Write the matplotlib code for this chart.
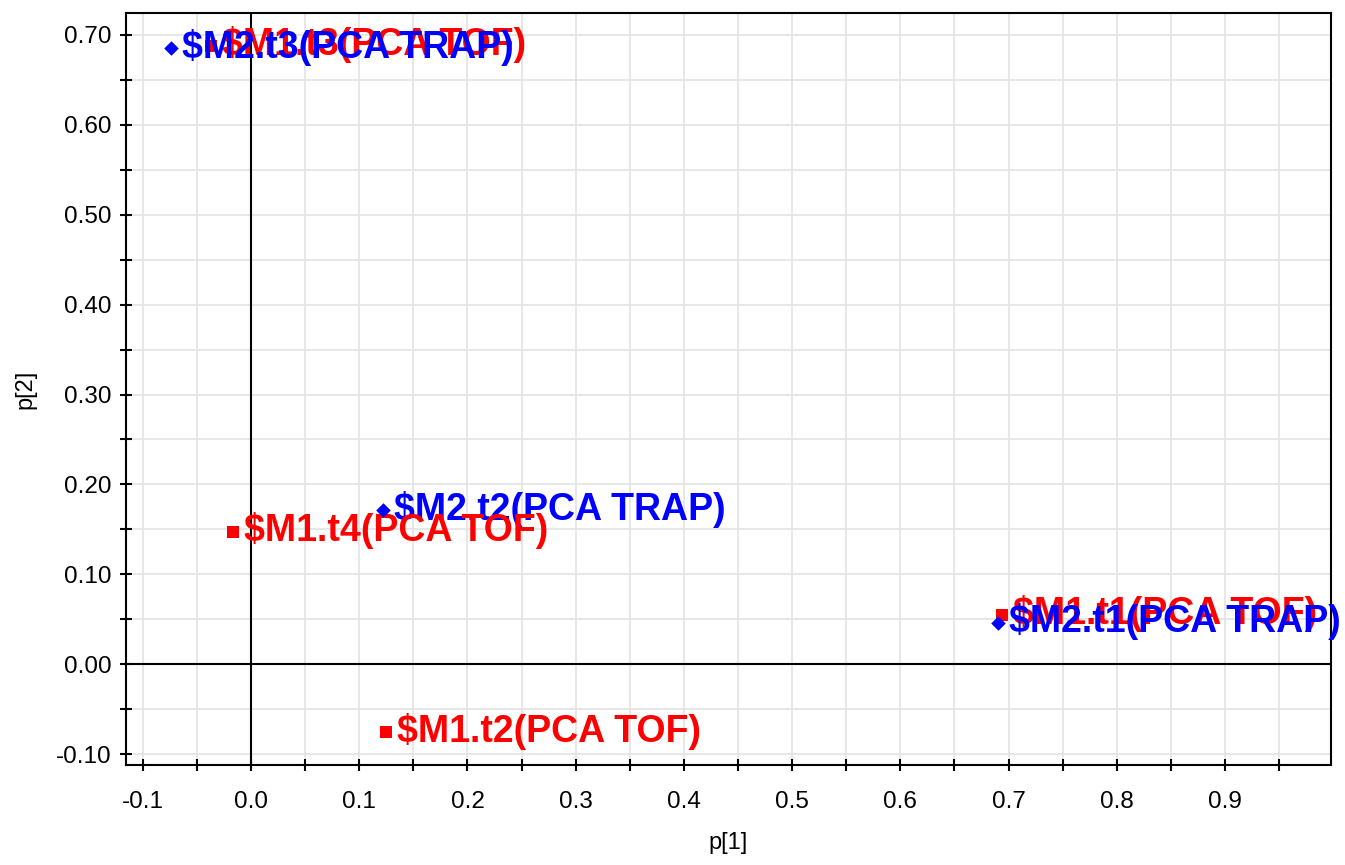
import matplotlib.pyplot as plt
from matplotlib.ticker import MultipleLocator, FormatStrFormatter

# scores (p[1], p[2])
m1_labels = ['$M1.t3(PCA TOF)', '$M1.t4(PCA TOF)', '$M1.t1(PCA TOF)', '$M1.t2(PCA TOF)']
m1_x = [-0.037, -0.017, 0.694, 0.125]
m1_y = [0.688, 0.147, 0.055, -0.076]

m2_labels = ['$M2.t3(PCA TRAP)', '$M2.t2(PCA TRAP)', '$M2.t1(PCA TRAP)']
m2_x = [-0.074, 0.122, 0.690]
m2_y = [0.685, 0.171, 0.046]

plt.rcParams['font.family'] = ['Liberation Sans', 'DejaVu Sans']

fig = plt.figure(figsize=(13.45, 8.65), dpi=100)
ax = fig.add_axes([0.0937, 0.1156, 0.8959, 0.8694])

# zero lines
ax.axhline(0, color='black', lw=1.5, zorder=1)
ax.axvline(0, color='black', lw=1.5, zorder=1)

ax.scatter(m1_x, m1_y, marker='s', s=70, color='#ff0000', zorder=3, linewidths=0)
for lab, x, y in zip(m1_labels, m1_x, m1_y):
    ax.annotate(lab, (x, y), xytext=(8, 1), textcoords='offset points',
                va='center', ha='left', fontsize=27, fontweight='bold',
                color='#ff0000', zorder=4)

ax.scatter(m2_x, m2_y, marker='D', s=55, color='#0000ff', zorder=5, linewidths=0)
for lab, x, y in zip(m2_labels, m2_x, m2_y):
    # t2 label sits under the red t4 label in the original
    z = 3.5 if 't2' in lab else 6
    ax.annotate(lab, (x, y), xytext=(8, 1), textcoords='offset points',
                va='center', ha='left', fontsize=27, fontweight='bold',
                color='#0000ff', zorder=z)

ax.set_xlim(-0.1155, 0.998)
ax.set_ylim(-0.1122, 0.7245)

ax.xaxis.set_major_locator(MultipleLocator(0.1))
ax.xaxis.set_minor_locator(MultipleLocator(0.05))
ax.yaxis.set_major_locator(MultipleLocator(0.1))
ax.yaxis.set_minor_locator(MultipleLocator(0.05))
ax.xaxis.set_major_formatter(FormatStrFormatter('%.1f'))
ax.yaxis.set_major_formatter(FormatStrFormatter('%.2f'))

ax.grid(True, which='both', color='#e3e3e3', lw=1.2, zorder=0)
ax.set_axisbelow(True)
ax.tick_params(which='both', direction='inout', length=9, width=1.5, labelsize=17.5, pad=14)
ax.tick_params(axis='y', pad=6)
for s in ax.spines.values():
    s.set_linewidth(1.5)

ax.set_xlabel('p[1]', fontsize=17, labelpad=14)
ax.set_ylabel('p[2]', fontsize=17, labelpad=14)

plt.savefig('out.png', dpi=100)
